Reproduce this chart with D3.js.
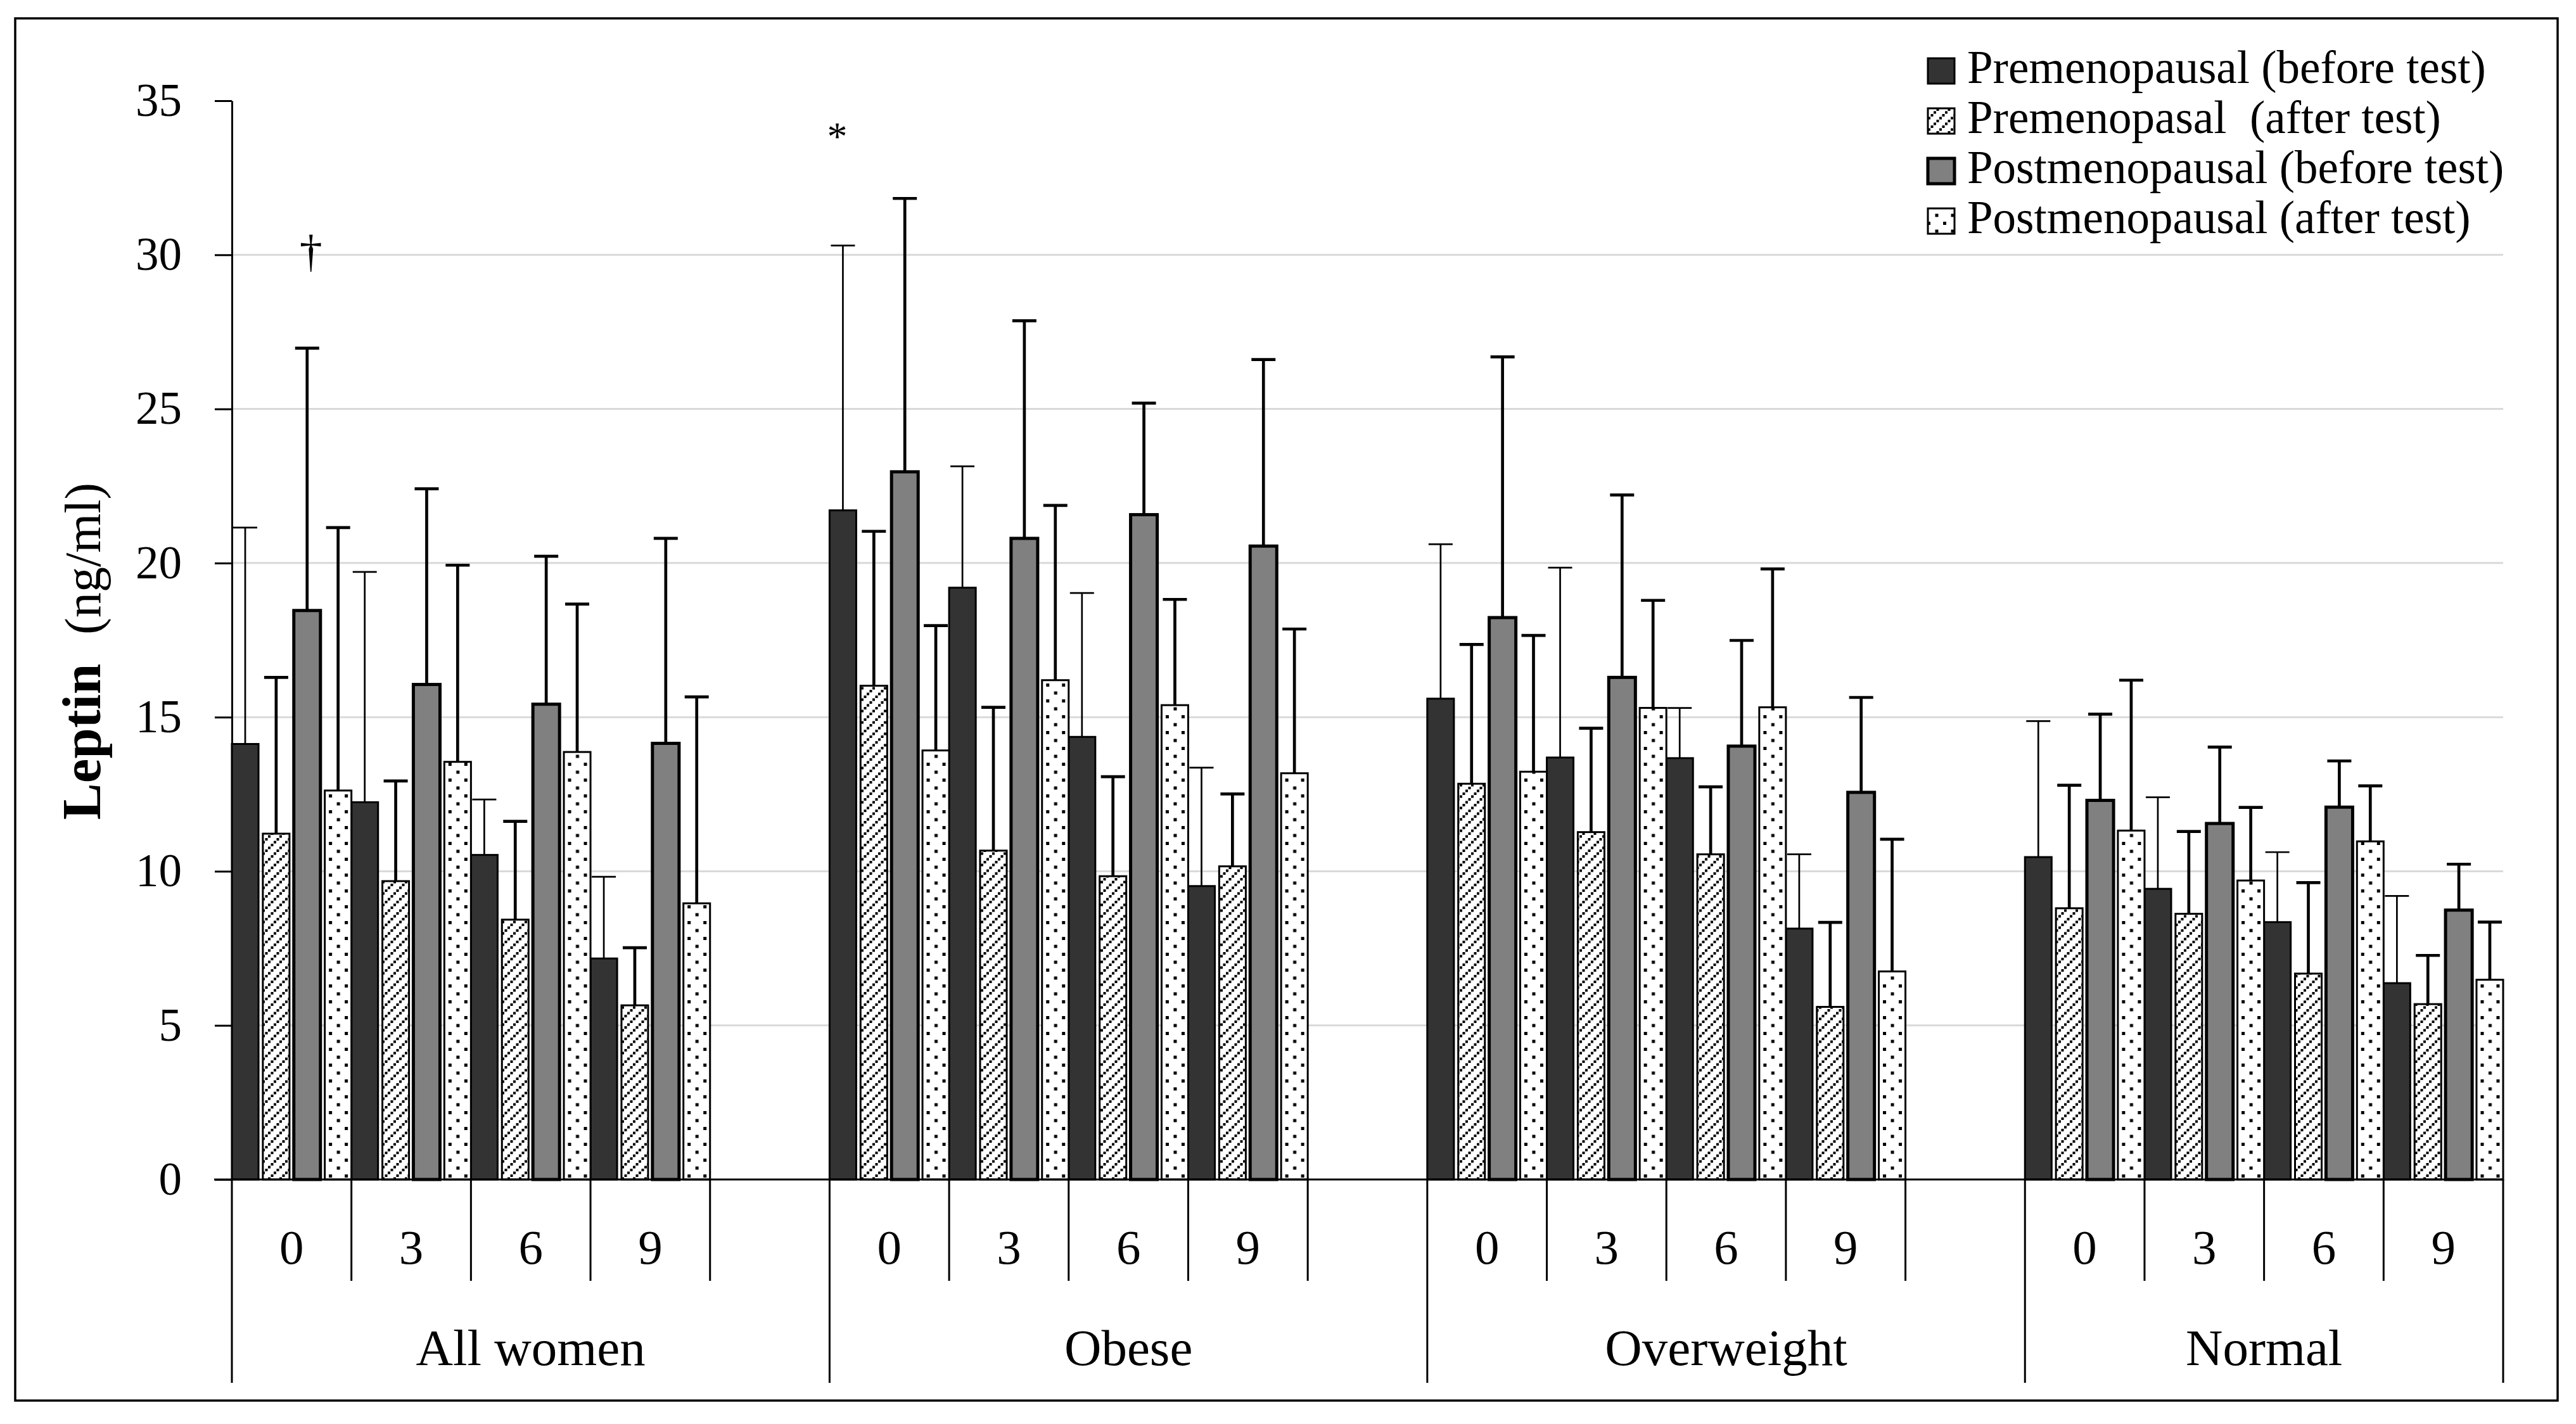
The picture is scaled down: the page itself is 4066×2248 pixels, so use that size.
<!DOCTYPE html>
<html>
<head>
<meta charset="utf-8">
<script src="https://cdn.jsdelivr.net/npm/d3@7"></script>
<style>
  body { margin: 0; background: #fff; }
  svg { display: block; }
  text { font-family: "Liberation Serif", "Times New Roman", serif; fill: #000; }
</style>
</head>
<body>
<div id="chart"></div>
<script>
// groups and time points (slot order: group x time)
const groups = ["All women", "Obese", "Overweight", "Normal"];
const times = ["0", "3", "6", "9"];
const seriesNames = [
  "Premenopausal (before test)",
  "Premenopasal  (after test)",
  "Postmenopausal (before test)",
  "Postmenopausal (after test)"
];

// means, 16 values = 4 groups x 4 times
const preBefore  = [14.13, 12.24, 10.53, 7.17, 21.71, 19.20, 14.36, 9.52, 15.60, 13.69, 13.67, 8.14, 10.46, 9.43, 8.35, 6.37];
const preAfter   = [11.22, 9.68, 8.43, 5.65, 16.02, 10.67, 9.84, 10.16, 12.84, 11.27, 10.55, 5.60, 8.80, 8.62, 6.68, 5.69];
const postBefore = [18.46, 16.06, 15.42, 14.15, 22.96, 20.80, 21.57, 20.55, 18.23, 16.29, 14.06, 12.56, 12.30, 11.55, 12.08, 8.74];
const postAfter  = [12.62, 13.55, 13.87, 8.96, 13.92, 16.20, 15.39, 13.18, 13.23, 15.30, 15.32, 6.75, 11.32, 9.70, 10.97, 6.48];

// standard deviations (upper error bars)
const preBeforeSD  = [7.02, 7.47, 1.80, 2.65, 8.59, 3.94, 4.67, 3.84, 5.01, 6.16, 1.63, 2.41, 4.41, 2.97, 2.27, 2.83];
const preAfterSD   = [5.07, 3.25, 3.19, 1.87, 5.01, 4.65, 3.23, 2.35, 4.52, 3.37, 2.19, 2.74, 3.99, 2.67, 2.95, 1.58];
const postBeforeSD = [8.51, 6.35, 4.80, 6.65, 8.87, 7.06, 3.62, 6.05, 8.46, 5.92, 3.43, 3.08, 2.80, 2.48, 1.50, 1.49];
const postAfterSD  = [8.53, 6.38, 4.80, 6.70, 4.05, 5.67, 3.43, 4.68, 4.42, 3.49, 4.49, 4.29, 4.88, 2.37, 1.80, 1.87];

const yTicks = [0, 5, 10, 15, 20, 25, 30, 35];
const gridTicks = [5, 10, 15, 20, 25, 30];

const means = [preBefore, preAfter, postBefore, postAfter];
const sds = [preBeforeSD, preAfterSD, postBeforeSD, postAfterSD];

const W = 4066, H = 2248;
const plotLeft = 366, plotRight = 3951, plotBottom = 1862, plotTop = 159;

const svg = d3.select("#chart").append("svg")
  .attr("width", W).attr("height", H);

svg.append("rect").attr("width", W).attr("height", H).attr("fill", "#fff");

// slots: each group gets 4 time slots + one empty slot (not after last)
const slotKeys = [];
groups.forEach((g, gi) => {
  times.forEach(t => slotKeys.push(g + "|" + t));
  if (gi < groups.length - 1) slotKeys.push(g + "|gap");
});

const slot = d3.scaleBand().domain(slotKeys).range([plotLeft, plotRight]).padding(0);
const inner = d3.scaleBand().domain([0, 1, 2, 3]).range([0, slot.bandwidth()])
  .paddingInner(0.14).paddingOuter(0);
const y = d3.scaleLinear().domain([0, 35]).range([plotBottom, plotTop]);

const bars = [];
means.forEach((arr, s) => arr.forEach((v, k) => {
  const g = groups[Math.floor(k / 4)], t = times[k % 4];
  bars.push({ s, k, g, t, v, sd: sds[s][k], x: slot(g + "|" + t) + inner(s) });
}));

// patterns
const defs = svg.append("defs");
const hatch = defs.append("pattern").attr("id", "hatch")
  .attr("patternUnits", "userSpaceOnUse").attr("width", 18).attr("height", 18);
hatch.append("rect").attr("width", 18).attr("height", 18).attr("fill", "#fff");
[0, 1, 2, 3].forEach(i => {
  hatch.append("rect").attr("x", i * 4.5).attr("y", 13.5 - i * 4.5)
    .attr("width", 4).attr("height", 4).attr("fill", "#000");
});

function dotPattern(id, x0, y0) {
  const p = defs.append("pattern").attr("id", id)
    .attr("patternUnits", "userSpaceOnUse")
    .attr("x", x0).attr("y", y0).attr("width", 25).attr("height", 25);
  p.append("rect").attr("width", 25).attr("height", 25).attr("fill", "#fff");
  p.append("rect").attr("x", 0).attr("y", 0).attr("width", 5).attr("height", 5).attr("fill", "#000");
  p.append("rect").attr("x", 12.5).attr("y", 12.5).attr("width", 5).attr("height", 5).attr("fill", "#000");
}
bars.filter(d => d.s === 3).forEach(d => dotPattern("dots" + d.k, d.x + 6.5, 4));
dotPattern("dotsLegend", 3043 + 6, 96);

const fillOf = d => ["#333333", "url(#hatch)", "#808080", "url(#dots" + d.k + ")"][d.s];
const strokeW = [3, 3, 5, 3];
const errW = [2.7, 4.7, 4.7, 4.7];

// gridlines
svg.append("g").selectAll("line").data(gridTicks).join("line")
  .attr("x1", plotLeft).attr("x2", plotRight)
  .attr("y1", d => y(d)).attr("y2", d => y(d))
  .attr("stroke", "#d9d9d9").attr("stroke-width", 3);

// y axis
const yAxis = svg.append("g").attr("transform", `translate(${plotLeft},0)`)
  .call(d3.axisLeft(y).tickValues(yTicks).tickSize(27).tickSizeOuter(0).tickPadding(52));
yAxis.select(".domain").attr("stroke", "#000").attr("stroke-width", 3);
yAxis.selectAll(".tick line").attr("stroke", "#000").attr("stroke-width", 3);
yAxis.selectAll(".tick text").attr("font-size", 73)
  .attr("font-family", "Liberation Serif, serif").attr("fill", "#000");

// bars
const bw = inner.bandwidth();
svg.append("g").selectAll("rect").data(bars).join("rect")
  .attr("x", d => d.x).attr("width", bw)
  .attr("y", d => y(d.v)).attr("height", d => y(0) - y(d.v))
  .attr("fill", fillOf).attr("stroke", "#000")
  .attr("stroke-width", d => strokeW[d.s]);

// error bars
const eb = svg.append("g").selectAll("g").data(bars).join("g");
eb.append("line")
  .attr("x1", d => d.x + bw / 2).attr("x2", d => d.x + bw / 2)
  .attr("y1", d => y(d.v)).attr("y2", d => y(d.v + d.sd))
  .attr("stroke", "#000").attr("stroke-width", d => errW[d.s]);
eb.append("line")
  .attr("x1", d => d.x + bw / 2 - 19).attr("x2", d => d.x + bw / 2 + 19)
  .attr("y1", d => y(d.v + d.sd)).attr("y2", d => y(d.v + d.sd))
  .attr("stroke", "#000").attr("stroke-width", d => errW[d.s]);

// x axis line
svg.append("line").attr("x1", 338).attr("x2", plotRight)
  .attr("y1", plotBottom).attr("y2", plotBottom)
  .attr("stroke", "#000").attr("stroke-width", 3);

// category ticks
const ticks = [];
groups.forEach((g, gi) => {
  times.forEach((t, ti) => ticks.push({ x: slot(g + "|" + t), long: ti === 0 }));
  ticks.push({ x: slot(g + "|9") + slot.bandwidth(), long: gi === groups.length - 1 });
});
svg.append("g").selectAll("line").data(ticks).join("line")
  .attr("x1", d => d.x).attr("x2", d => d.x)
  .attr("y1", plotBottom).attr("y2", d => d.long ? 2183 : 2022)
  .attr("stroke", "#000").attr("stroke-width", 3);

// time labels
const timeLabels = [];
groups.forEach(g => times.forEach(t => timeLabels.push({ g, t })));
svg.append("g").selectAll("text").data(timeLabels).join("text")
  .attr("x", d => slot(d.g + "|" + d.t) + slot.bandwidth() / 2)
  .attr("y", 1995).attr("text-anchor", "middle").attr("font-size", 77)
  .text(d => d.t);

// group labels
svg.append("g").selectAll("text").data(groups).join("text")
  .attr("x", (g, gi) => {
    const a = slot(g + "|0");
    const b = gi < groups.length - 1 ? slot(groups[gi + 1] + "|0") : plotRight;
    return (a + b) / 2;
  })
  .attr("y", 2155).attr("text-anchor", "middle").attr("font-size", 81)
  .text(g => g);

// y axis title
const yt = svg.append("text").attr("transform", "translate(158,1028) rotate(-90)")
  .attr("text-anchor", "middle");
yt.append("tspan").attr("font-weight", "bold").attr("font-size", 87).text("Leptin");
yt.append("tspan").attr("font-size", 80).attr("dx", 46).text("(ng/ml)");

// significance marks
svg.append("text").attr("x", slot("All women|0") + inner(2) + bw / 2 + 6).attr("y", 421)
  .attr("text-anchor", "middle").attr("font-size", 72).text("\u2020");
svg.append("text").attr("x", slot("Obese|0") + 12).attr("y", 237)
  .attr("text-anchor", "middle").attr("font-size", 64).text("*");

// legend
const legend = svg.append("g").selectAll("g").data(seriesNames).join("g")
  .attr("transform", (d, i) => `translate(3043,${92 + i * 79})`);
legend.append("rect")
  .attr("width", 42).attr("height", 40)
  .attr("fill", (d, i) => ["#333333", "url(#hatch)", "#808080", "url(#dotsLegend)"][i])
  .attr("stroke", "#000").attr("stroke-width", (d, i) => strokeW[i]);
legend.append("text").attr("x", 62).attr("y", 39)
  .attr("font-size", 73).style("white-space", "pre").text(d => d);

// outer frame
svg.append("rect").attr("x", 24).attr("y", 29).attr("width", 4013).attr("height", 2182)
  .attr("fill", "none").attr("stroke", "#000").attr("stroke-width", 3.5);
</script>
</body>
</html>
